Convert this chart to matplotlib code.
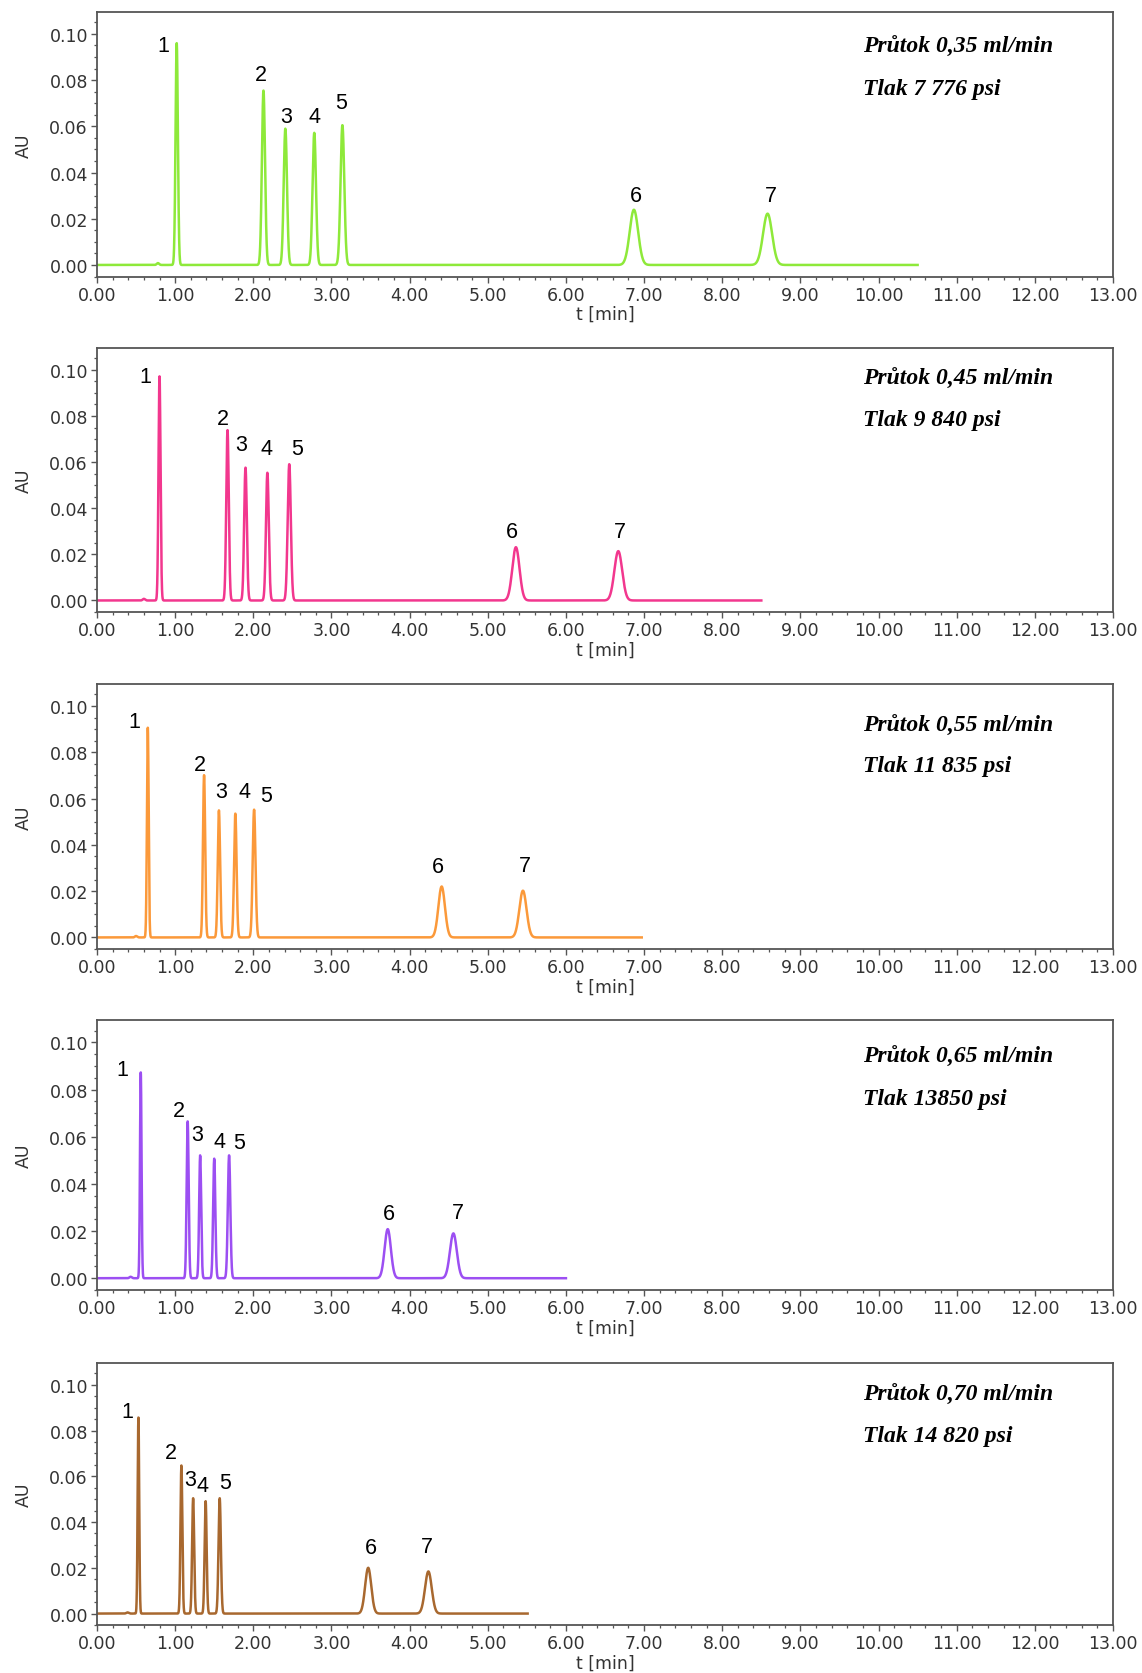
import numpy as np
import matplotlib
matplotlib.use("Agg")
import matplotlib.pyplot as plt
from matplotlib.ticker import MultipleLocator, FormatStrFormatter

# ---- data ----
flow_labels = ["Průtok 0,35 ml/min", "Průtok 0,45 ml/min", "Průtok 0,55 ml/min",
               "Průtok 0,65 ml/min", "Průtok 0,70 ml/min"]
pressure_labels = ["Tlak 7 776 psi", "Tlak 9 840 psi", "Tlak 11 835 psi",
                   "Tlak 13850 psi", "Tlak 14 820 psi"]
peak_names = ["1", "2", "3", "4", "5", "6", "7"]

rt_035 = [1.02, 2.13, 2.41, 2.78, 3.14, 6.87, 8.58]
h_035 = [0.0960, 0.0755, 0.0590, 0.0572, 0.0605, 0.0239, 0.0222]
w_035 = [0.015, 0.020, 0.021, 0.022, 0.024, 0.054, 0.058]

rt_045 = [0.80, 1.67, 1.90, 2.18, 2.46, 5.36, 6.67]
h_045 = [0.0972, 0.0739, 0.0576, 0.0554, 0.0591, 0.0231, 0.0214]
w_045 = [0.013, 0.016, 0.017, 0.018, 0.020, 0.046, 0.050]

rt_055 = [0.65, 1.37, 1.56, 1.77, 2.01, 4.41, 5.45]
h_055 = [0.0906, 0.0701, 0.0549, 0.0535, 0.0552, 0.0220, 0.0202]
w_055 = [0.011, 0.014, 0.015, 0.016, 0.018, 0.042, 0.046]

rt_065 = [0.56, 1.16, 1.32, 1.50, 1.69, 3.72, 4.56]
h_065 = [0.0873, 0.0665, 0.0521, 0.0507, 0.0521, 0.0208, 0.0190]
w_065 = [0.010, 0.013, 0.013, 0.014, 0.016, 0.040, 0.044]

rt_070 = [0.53, 1.08, 1.23, 1.39, 1.57, 3.47, 4.24]
h_070 = [0.0857, 0.0647, 0.0504, 0.0491, 0.0504, 0.0200, 0.0184]
w_070 = [0.010, 0.012, 0.013, 0.013, 0.015, 0.039, 0.043]

# small early bump (time, height) and run end time
bump_t = [0.78, 0.60, 0.50, 0.43, 0.39]
bump_h = [0.0008, 0.0007, 0.0006, 0.0006, 0.0005]
run_end = [10.5, 8.5, 6.97, 6.0, 5.51]

colors = ["#8ee93a", "#f2378e", "#fb993a", "#9c4ff2", "#a8682f"]

# ---- layout / style ----
W, H = 1142, 1674
panels_px = [(13, 277.5), (349, 613), (685, 950), (1021, 1291), (1364, 1626)]
left_px, right_px = 97, 1113
text_y = [(0.868, 0.712), (0.883, 0.73), (0.845, 0.694), (0.864, 0.71), (0.879, 0.723)]
label_off = [
    [(-13, -2), (-3, 16), (1, 12), (0, 16), (-1, 23), (2, 14), (3, 18)],
    [(-14, 0), (-5, 12), (-4, 23), (-1, 24), (8, 16), (-4, 16), (2, 20)],
    [(-13, 6), (-4, 11), (2, 19), (9, 22), (12, 14), (-4, 20), (2, 25)],
    [(-18, 3), (-9, 11), (-3, 21), (5, 17), (10, 13), (1, 16), (4, 21)],
    [(-11, 6), (-11, 13), (-3, 19), (-3, 16), (5, 16), (3, 20), (-1, 25)],
]

rts = [rt_035, rt_045, rt_055, rt_065, rt_070]
hs = [h_035, h_045, h_055, h_065, h_070]
ws = [w_035, w_045, w_055, w_065, w_070]

fig = plt.figure(figsize=(W / 100, H / 100), dpi=100)
frame_c = "#555555"
tick_c = "#333333"

for i in range(5):
    top, bot = panels_px[i]
    ax = fig.add_axes([left_px / W, 1 - bot / H, (right_px - left_px) / W, (bot - top) / H])
    x = np.linspace(0, run_end[i], 8000)
    y = bump_h[i] * np.exp(-0.5 * ((x - bump_t[i]) / 0.015) ** 2)
    for t, h, w in zip(rts[i], hs[i], ws[i]):
        y = y + h * np.exp(-0.5 * ((x - t) / w) ** 2)
    ax.plot(x, y, color=colors[i], lw=1.8, solid_joinstyle="round")

    for j, name in enumerate(peak_names):
        dx, dy = label_off[i][j]
        ax.annotate(name, xy=(rts[i][j], hs[i][j]), xytext=(dx, dy),
                    textcoords="offset pixels", ha="center", va="center",
                    fontsize=15.5, family="Liberation Sans", color="black")

    ax.text(0.754, text_y[i][0], flow_labels[i], transform=ax.transAxes,
            family="Liberation Serif", style="italic", weight="bold",
            fontsize=17, va="center", ha="left")
    ax.text(0.754, text_y[i][1], pressure_labels[i], transform=ax.transAxes,
            family="Liberation Serif", style="italic", weight="bold",
            fontsize=17, va="center", ha="left")

    ax.set_xlim(0, 13)
    ax.set_ylim(-0.005, 0.1095)
    ax.xaxis.set_major_locator(MultipleLocator(1))
    ax.xaxis.set_minor_locator(MultipleLocator(0.2))
    ax.yaxis.set_major_locator(MultipleLocator(0.02))
    ax.yaxis.set_minor_locator(MultipleLocator(0.005))
    ax.xaxis.set_major_formatter(FormatStrFormatter("%.2f"))
    ax.yaxis.set_major_formatter(FormatStrFormatter("%.2f"))
    ax.tick_params(which="major", direction="out", length=4.5, width=1.0,
                   color=frame_c, labelcolor=tick_c, labelsize=12.5, pad=2)
    ax.tick_params(which="minor", direction="out", length=2.5, width=0.9, color=frame_c)
    for lab in ax.get_xticklabels() + ax.get_yticklabels():
        lab.set_family("DejaVu Sans")
    for s in ax.spines.values():
        s.set_color(frame_c)
        s.set_linewidth(1.3)
    ax.set_ylabel("AU", fontsize=12.5, color=tick_c, labelpad=12, family="DejaVu Sans")
    ax.set_xlabel("t [min]", fontsize=12.5, color=tick_c, labelpad=1, family="DejaVu Sans")

fig.savefig("out.png", dpi=100, facecolor="white")
